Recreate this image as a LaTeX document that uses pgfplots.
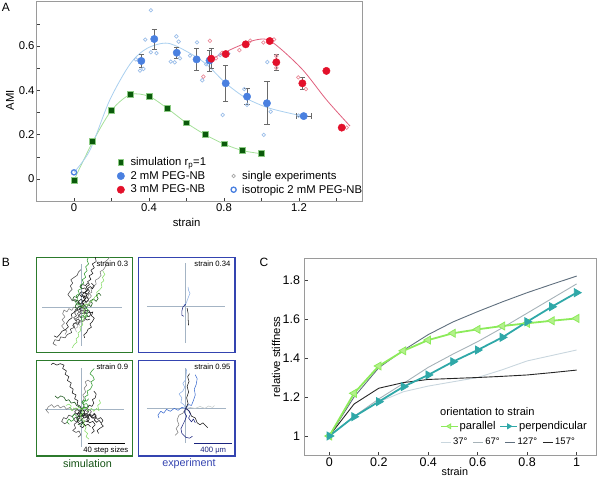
\documentclass[border=0pt]{standalone}
\usepackage{fontspec}
\setmainfont{Liberation Sans}
\usepackage{pgfplots}
\pgfplotsset{compat=1.18}

\newcommand{\fs}[1]{\fontsize{#1}{#1}\selectfont}

\definecolor{simfill}{HTML}{0B5A0B}
\definecolor{simedge}{HTML}{8CCB84}
\definecolor{simfit}{HTML}{A6E09A}
\definecolor{bluept}{HTML}{4A80E0}
\definecolor{bluefit}{HTML}{A9CFEF}
\definecolor{bluesingle}{HTML}{9DBFE9}
\definecolor{redpt}{HTML}{E3102A}
\definecolor{redfit}{HTML}{E0607E}
\definecolor{redsingle}{HTML}{EA8E9C}
\definecolor{errgray}{HTML}{6A6A6A}
\definecolor{framegray}{HTML}{9A9A9A}
\definecolor{parallelc}{HTML}{8CEB5A}
\definecolor{parfill}{HTML}{B4F08C}
\definecolor{perpc}{HTML}{2FA8A8}
\definecolor{a37}{HTML}{C9D6DE}
\definecolor{a67}{HTML}{A6B2B8}
\definecolor{a127}{HTML}{5F6F7E}
\definecolor{a157}{HTML}{262626}
\definecolor{simframe}{HTML}{2C7A2C}
\definecolor{expframe}{HTML}{3444B0}
\definecolor{cross}{HTML}{A4B4C4}
\definecolor{tblack}{HTML}{1A1A1A}
\definecolor{tdgray}{HTML}{454545}
\definecolor{tgray}{HTML}{7C7C7C}
\definecolor{tlgray}{HTML}{ABABAB}
\definecolor{tgreen}{HTML}{2E9A2E}
\definecolor{tdgreen}{HTML}{145214}
\definecolor{tlgreen}{HTML}{86DC66}
\definecolor{edblue}{HTML}{1A237E}
\definecolor{eblue}{HTML}{3C6CD0}
\definecolor{elblue}{HTML}{8FB0E4}
\definecolor{elgray}{HTML}{C4CACA}

\pgfplotsset{
  panel/.style={scale only axis, anchor=south west,
    axis line style={framegray, line width=1pt},
    tick pos=left, tick align=inside,
    major tick length=3pt, minor tick length=3pt,
    every tick/.style={black!75, line width=0.6pt},
    /pgf/number format/assume math mode=true,
    legend cell align=left},
  walk/.style={scale only axis, anchor=south west,
    xtick=\empty, ytick=\empty},
  trk/.style={#1, line width=0.55pt, line join=round},
  ebars/.style={error bars/error bar style={errgray, line width=0.6pt},
    error bars/error mark options={rotate=90, errgray, mark size=2.6pt, line width=0.6pt}},
}

\begin{document}
\begin{tikzpicture}
\useasboundingbox (0,0) rectangle (600pt,479pt);

% ---------------- panel A ----------------
\begin{axis}[panel, at={(36.5pt,277.85pt)},
  width=326.25pt, height=199.35pt,
  xmin=-0.2, xmax=1.54, ymin=-0.1, ymax=0.8,
  xtick={0,0.4,0.8,1.2}, minor xtick={0.2,0.6,1.0,1.4},
  ytick={0,0.2,0.4,0.6}, minor ytick={0.1,0.3,0.5,0.7},
  tick label style={font=\fs{11.3}},
  xticklabel style={yshift=1pt}, yticklabel style={xshift=1.5pt},
  xlabel={strain}, ylabel={AMI},
  label style={font=\fs{11.3}},
  xlabel style={at={(axis description cs:0.46,-0.105)}, anchor=center},
  ylabel style={at={(axis description cs:-0.081,0.507)}, anchor=center},
  legend columns=2,
  legend style={at={(axis cs:0.229,0.107)}, anchor=north west, draw=none,
    fill=none, font=\fs{11.3}, inner sep=0pt, row sep=0pt,
    /tikz/every odd column/.append style={column sep=4pt},
    /tikz/every even column/.append style={column sep=17pt}},
]
% fits
\addplot[simfit, line width=0.8pt, smooth, forget plot] coordinates {
  (0,-0.005) (0.1,0.168) (0.2,0.31) (0.3,0.381) (0.4,0.373) (0.5,0.317)
  (0.6,0.253) (0.7,0.2) (0.8,0.158) (0.9,0.128) (1.0,0.114)};
\addplot[bluefit, line width=0.8pt, smooth, forget plot] coordinates {
  (0,0.03) (0.085,0.13) (0.19,0.355) (0.3,0.52) (0.39,0.59) (0.5,0.613)
  (0.62,0.567) (0.71,0.515) (0.81,0.432) (0.92,0.364) (1.045,0.319) (1.22,0.284)};
\addplot[redfit, line width=0.8pt, smooth, forget plot] coordinates {
  (0.73,0.54) (0.85,0.59) (0.956,0.625) (1.028,0.63) (1.099,0.59)
  (1.223,0.49) (1.347,0.357) (1.472,0.239)};
% single experiments
\addplot[only marks, mark=o, mark size=1.8pt, bluesingle,
  mark options={line width=0.7pt}, forget plot] coordinates {
  (0.41,0.762) (0.38,0.629) (0.33,0.54) (0.352,0.489) (0.37,0.497)
  (0.41,0.572) (0.44,0.568) (0.546,0.644) (0.558,0.62) (0.516,0.53)
  (0.537,0.527) (0.565,0.545) (0.656,0.617) (0.619,0.557) (0.684,0.446)
  (0.705,0.518) (0.793,0.289) (0.779,0.56) (0.908,0.406) (0.923,0.335)
  (1.012,0.199) (1.031,0.528) (1.049,0.304) (1.198,0.286) (0.823,0.567)};
\addplot[only marks, mark=o, mark size=1.8pt, redsingle,
  mark options={line width=0.7pt}, forget plot] coordinates {
  (0.725,0.624) (0.69,0.462) (0.757,0.545) (0.882,0.582) (0.94,0.624)
  (1.01,0.616) (1.067,0.63) (1.079,0.555) (1.079,0.502) (1.196,0.459)
  (1.237,0.406) (1.454,0.232) (0.79,0.57)};
% simulation
\addplot[only marks, mark=square*, mark size=2.9pt,
  mark options={fill=simfill, draw=simedge, line width=0.8pt}, forget plot]
  coordinates {
  (0,-0.005) (0.1,0.168) (0.2,0.31) (0.3,0.381) (0.4,0.373) (0.5,0.317)
  (0.6,0.253) (0.7,0.2) (0.8,0.158) (0.9,0.128) (1.0,0.114)};
% 2 mM
\addplot[only marks, mark=*, mark size=3.7pt, bluept, forget plot, ebars,
  error bars/.cd, y dir=both, y explicit, x dir=both, x explicit]
  coordinates {
  (0.359,0.533) +- (0,0.03)
  (0.428,0.632) +- (0,0.045)
  (0.548,0.570) +- (0,0.026)
  (0.654,0.540) +- (0,0.05)
  (0.723,0.535) +- (0,0.047)
  (0.809,0.432) +- (0,0.08)
  (0.923,0.372) +- (0,0.037)
  (1.029,0.342) +- (0,0.097)
  (1.225,0.284) +- (0.04,0)};
% 3 mM
\addplot[only marks, mark=*, mark size=3.7pt, redpt, forget plot, ebars,
  error bars/.cd, y dir=both, y explicit]
  coordinates {
  (0.732,0.543) +- (0,0.045)
  (0.809,0.564) +- (0,0)
  (0.916,0.608) +- (0,0)
  (1.044,0.623) +- (0,0)
  (1.079,0.527) +- (0,0.035)
  (1.218,0.432) +- (0,0.028)
  (1.346,0.488) +- (0,0)
  (1.428,0.232) +- (0,0)};
% isotropic
\addplot[only marks, mark=o, mark size=2.6pt, bluept,
  mark options={line width=1.3pt}, forget plot] coordinates {(0,0.03)};

\addlegendimage{only marks, mark=square*, mark size=2.9pt,
  mark options={fill=simfill, draw=simedge, line width=0.8pt}}
\addlegendentry{simulation r\textsubscript{p}=1}
\addlegendimage{empty legend}\addlegendentry{}
\addlegendimage{only marks, mark=*, mark size=3.7pt, bluept}
\addlegendentry{2 mM PEG-NB}
\addlegendimage{only marks, mark=o, mark size=1.8pt, gray!70,
  mark options={line width=0.7pt}}
\addlegendentry{single experiments}
\addlegendimage{only marks, mark=*, mark size=3.7pt, redpt}
\addlegendentry{3 mM PEG-NB}
\addlegendimage{only marks, mark=o, mark size=2.6pt, bluept,
  mark options={line width=1.3pt}}
\addlegendentry{isotropic 2 mM PEG-NB}
\end{axis}

% ---------------- panel C ----------------
\begin{axis}[panel, at={(304.6pt,23.5pt)},
  width=291.8pt, height=196.95pt,
  xmin=-0.1, xmax=1.08, ymin=0.9, ymax=1.91,
  xtick={0,0.2,0.4,0.6,0.8,1}, ytick={1,1.2,1.4,1.6,1.8},
  tick label style={font=\fs{12.5}},
  xticklabel style={yshift=1pt}, yticklabel style={xshift=-1pt},
  xlabel={strain}, ylabel={relative stiffness},
  xlabel style={font=\fs{10.8}, at={(axis description cs:0.515,-0.084)}, anchor=center},
  ylabel style={font=\fs{11.3}, at={(axis description cs:-0.098,0.5)}, anchor=center},
  legend columns=2,
  legend image post style={mark size=2.8pt, line width=1.3pt},
  legend style={at={(axis cs:0.4476,1.0497)}, anchor=west, draw=none,
    fill=none, font=\fs{11.2}, inner sep=0pt,
    /tikz/every odd column/.append style={column sep=-1pt},
    /tikz/every even column/.append style={column sep=2pt}},
]
\addplot[a37, line width=0.9pt, forget plot] coordinates {
  (0,1) (0.1,1.1) (0.2,1.175) (0.3,1.227) (0.4,1.256) (0.5,1.278)
  (0.6,1.30) (0.7,1.34) (0.8,1.385) (0.9,1.413) (1.0,1.441)};
\addplot[a67, line width=0.9pt, forget plot] coordinates {
  (0,1) (0.1,1.1) (0.2,1.19) (0.3,1.27) (0.4,1.352) (0.5,1.42)
  (0.6,1.484) (0.7,1.555) (0.8,1.63) (0.9,1.705) (1.0,1.78)};
\addplot[a127, line width=0.9pt, forget plot] coordinates {
  (0,1) (0.1,1.2) (0.2,1.35) (0.3,1.44) (0.4,1.52) (0.5,1.585)
  (0.6,1.638) (0.7,1.688) (0.8,1.735) (0.9,1.778) (1.0,1.82)};
\addplot[a157, line width=0.9pt, forget plot] coordinates {
  (0,1) (0.1,1.164) (0.2,1.245) (0.3,1.274) (0.4,1.29) (0.5,1.295)
  (0.6,1.30) (0.7,1.306) (0.8,1.313) (0.9,1.325) (1.0,1.338)};
\addplot[parallelc, line width=1.8pt, mark=triangle*, mark size=4.6pt,
  mark options={rotate=90, fill=parfill, draw=parallelc, line width=0.8pt}]
  coordinates {
  (0,1) (0.1,1.219) (0.2,1.359) (0.3,1.437) (0.4,1.492) (0.5,1.527)
  (0.6,1.547) (0.7,1.564) (0.8,1.578) (0.9,1.591) (1.0,1.603)};
\addlegendentry{parallel}
\addplot[perpc, line width=1.8pt, mark=triangle*, mark size=4.6pt,
  mark options={rotate=-90, fill=perpc, draw=perpc, line width=0.8pt}]
  coordinates {
  (0,1) (0.1,1.099) (0.2,1.176) (0.3,1.253) (0.4,1.313) (0.5,1.381)
  (0.6,1.441) (0.7,1.506) (0.8,1.586) (0.9,1.663) (1.0,1.735)};
\addlegendentry{perpendicular}
\node[anchor=west, font=\fs{11.1}, inner sep=0pt] at (axis cs:0.4476,1.127)
  {orientation to strain};
\end{axis}

% angle legend for panel C
\begin{axis}[scale only axis, anchor=south west, at={(304.6pt,23.5pt)},
  width=291.8pt, height=196.95pt, hide axis,
  xmin=-0.1, xmax=1.08, ymin=0.9, ymax=1.91,
  legend columns=4,
  legend image code/.code={\draw[#1] (0pt,0pt) -- (10pt,0pt);},
  legend style={at={(axis cs:0.4476,0.968)}, anchor=west, draw=none,
    fill=none, font=\fs{9.5}, inner sep=0pt,
    /tikz/every odd column/.append style={column sep=0pt},
    /tikz/every even column/.append style={column sep=3pt}},
]
\addlegendimage{a37, line width=0.9pt}\addlegendentry{37°}
\addlegendimage{a67, line width=0.9pt}\addlegendentry{67°}
\addlegendimage{a127, line width=0.9pt}\addlegendentry{127°}
\addlegendimage{a157, line width=0.9pt}\addlegendentry{157°}
\end{axis}

% ---------------- panel B ----------------
% top left: simulation, strain 0.3
\begin{axis}[walk, at={(36.7pt,126.3pt)}, width=96pt, height=95pt,
  xmin=-0.94, xmax=1.06, ymin=-0.95, ymax=1.03,
  axis line style={simframe, line width=1.1pt}]
\addplot[cross, line width=0.8pt] coordinates {(-0.82,0) (0.83,0)};
\addplot[cross, line width=0.8pt] coordinates {(0,-0.8) (0,0.9)};
\addplot[trk=tdgray] coordinates {(0,0) (-0.05,-0.03) (-0.02,-0.09) (-0.09,-0.13) (-0.06,-0.2) (-0.13,-0.24) (-0.1,-0.31) (-0.18,-0.35) (-0.15,-0.42) (-0.24,-0.46) (-0.21,-0.53) (-0.3,-0.57) (-0.35,-0.64) (-0.44,-0.62) (-0.47,-0.7) (-0.56,-0.68) (-0.6,-0.76) (-0.53,-0.8)};
\addplot[trk=tgray] coordinates {(0,0) (-0.06,0.03) (-0.1,-0.03) (-0.17,0.0) (-0.21,-0.07) (-0.27,-0.03) (-0.31,-0.1) (-0.37,-0.06) (-0.4,-0.14) (-0.35,-0.2) (-0.41,-0.26) (-0.36,-0.33) (-0.42,-0.39) (-0.37,-0.46) (-0.31,-0.5) (-0.35,-0.57)};
\addplot[trk=tgray] coordinates {(0,0) (0.02,0.07) (0.08,0.1) (0.06,0.17) (0.12,0.21) (0.15,0.28) (0.21,0.31) (0.19,0.39) (0.25,0.44) (0.3,0.48) (0.28,0.56) (0.35,0.6) (0.4,0.66) (0.38,0.74) (0.45,0.78) (0.5,0.86) (0.48,0.94) (0.55,1.0) (0.6,1.08)};
\addplot[trk=tgray] coordinates {(0,0) (0.06,0.02) (0.1,0.07) (0.15,0.04) (0.18,0.1) (0.13,0.14) (0.08,0.11) (0.05,0.16) (0.1,0.2) (0.16,0.18) (0.2,0.23) (0.16,0.28) (0.1,0.26)};
\addplot[trk=tlgray] coordinates {(0,0) (0.03,-0.07) (-0.03,-0.11) (-0.01,-0.18) (-0.07,-0.22) (-0.05,-0.3) (-0.11,-0.34) (-0.08,-0.41) (-0.14,-0.45) (-0.11,-0.52)};
\addplot[trk=tblack] coordinates {(0,0) (0.04,0.06) (0.0,0.1) (0.06,0.15) (0.03,0.21) (0.1,0.24) (0.07,0.31) (0.13,0.35) (0.09,0.42) (0.16,0.47) (0.12,0.53) (0.19,0.58) (0.15,0.65) (0.23,0.7) (0.19,0.77) (0.26,0.82) (0.22,0.9) (0.3,0.95) (0.27,1.08)};
\addplot[trk=tblack] coordinates {(0,0) (0.05,-0.02) (0.08,-0.08) (0.14,-0.06) (0.18,-0.12) (0.23,-0.1) (0.2,-0.18) (0.26,-0.23) (0.22,-0.3) (0.17,-0.35) (0.2,-0.42) (0.13,-0.46) (0.1,-0.53) (0.04,-0.58) (0.06,-0.64)};
\addplot[trk=tblack] coordinates {(0,0) (-0.06,-0.06) (-0.12,-0.04) (-0.16,-0.11) (-0.22,-0.15) (-0.2,-0.22) (-0.27,-0.27) (-0.32,-0.34) (-0.28,-0.41) (-0.34,-0.47) (-0.41,-0.5) (-0.46,-0.57) (-0.52,-0.63) (-0.58,-0.6)};
\addplot[trk=tblack] coordinates {(0,0) (0.05,0.04) (0.02,0.09) (-0.04,0.07) (-0.07,0.12) (-0.02,0.16) (0.04,0.13) (0.08,0.18) (0.05,0.24) (-0.01,0.22) (-0.05,0.27) (-0.01,0.32) (0.05,0.3) (0.1,0.35) (0.06,0.4) (0.0,0.38) (-0.04,0.43) (0.02,0.47) (0.08,0.45) (0.12,0.5)};
\addplot[trk=tblack] coordinates {(0.02,-0.02) (0.07,-0.06) (0.04,-0.11) (0.1,-0.14) (0.15,-0.1) (0.19,-0.15) (0.15,-0.2) (0.09,-0.18) (0.06,-0.23) (0.11,-0.27) (0.17,-0.25)};
\addplot[trk=tblack] coordinates {(0,0.1) (0.05,0.14) (0.1,0.1) (0.14,0.16) (0.1,0.22) (0.04,0.2) (0.0,0.26) (0.06,0.3) (0.12,0.27) (0.16,0.33) (0.12,0.39) (0.18,0.43) (0.22,0.38) (0.26,0.44) (0.2,0.5)};
\addplot[trk=tdgray] coordinates {(0,0) (-0.03,0.07) (-0.09,0.1) (-0.14,0.16) (-0.2,0.13) (-0.24,0.2) (-0.29,0.26) (-0.25,0.32) (-0.2,0.37) (-0.24,0.44) (-0.19,0.5) (-0.23,0.57) (-0.16,0.62) (-0.1,0.66) (-0.07,0.73) (-0.02,0.78)};
\addplot[trk=tdgray] coordinates {(0,0) (-0.04,-0.05) (0.01,-0.08) (0.06,-0.05) (0.09,-0.1) (0.04,-0.14) (-0.02,-0.12) (-0.06,-0.17) (-0.02,-0.22) (0.04,-0.2) (0.07,-0.26) (0.02,-0.3) (-0.04,-0.28) (-0.08,-0.33) (-0.05,-0.38)};
\addplot[trk=tdgray] coordinates {(-0.05,-0.1) (-0.1,-0.06) (-0.15,-0.12) (-0.11,-0.18) (-0.17,-0.22) (-0.13,-0.28) (-0.07,-0.25) (-0.03,-0.31) (-0.09,-0.36) (-0.14,-0.33) (-0.19,-0.38) (-0.15,-0.44)};
\addplot[trk=tgreen] coordinates {(0,0) (-0.04,0.06) (-0.1,0.04) (-0.13,0.11) (-0.09,0.17) (-0.12,0.24) (-0.05,0.28) (-0.08,0.35) (0.0,0.39) (-0.03,0.46) (0.04,0.5) (0.01,0.57) (0.08,0.62) (0.05,0.7) (0.11,0.76) (0.08,0.84) (0.14,0.9) (0.11,0.98) (0.16,1.08)};
\addplot[trk=tgreen] coordinates {(0.05,-0.05) (0.1,-0.02) (0.13,-0.08) (0.09,-0.13) (0.13,-0.19) (0.07,-0.22) (0.03,-0.17) (-0.02,-0.2) (0.0,-0.27)};
\addplot[trk=tdgreen] coordinates {(0,0) (0.05,0.04) (0.09,-0.01) (0.14,0.05) (0.19,0.01) (0.22,0.08) (0.18,0.13) (0.24,0.17) (0.3,0.12) (0.34,0.18) (0.3,0.25) (0.36,0.29) (0.4,0.24)};
\addplot[trk=tdgreen] coordinates {(0,0) (-0.05,0.02) (-0.09,-0.03) (-0.14,0.0) (-0.12,0.06) (-0.06,0.08) (-0.08,0.14) (-0.14,0.12) (-0.19,0.16) (-0.16,0.22) (-0.1,0.2) (-0.06,0.25)};
\addplot[trk=tlgreen] coordinates {(0.02,0.0) (0.06,-0.06) (0.02,-0.12) (0.08,-0.18) (0.04,-0.25) (0.0,-0.3) (0.02,-0.37) (-0.04,-0.42) (-0.02,-0.49) (-0.08,-0.54) (-0.06,-0.61) (-0.12,-0.66) (-0.1,-0.73) (-0.16,-0.78) (-0.2,-0.85)};
\addplot[trk=tlgreen] coordinates {(0,0) (0.07,0.07) (0.12,0.04) (0.17,0.11) (0.23,0.14) (0.27,0.21) (0.33,0.24) (0.31,0.31) (0.37,0.36) (0.42,0.42) (0.4,0.5) (0.46,0.55) (0.43,0.62) (0.48,0.68) (0.44,0.75)};
\node[anchor=north east, font=\fs{7.7}, inner sep=0pt] at (rel axis cs:0.955,0.965) {strain 0.3};
\end{axis}

% top right: experiment, strain 0.34
\begin{axis}[walk, at={(138.3pt,126.3pt)}, width=96.7pt, height=95pt,
  xmin=-0.99, xmax=1.03, ymin=-0.97, ymax=1.01,
  axis line style={expframe, line width=1.1pt}]
\addplot[cross, line width=0.8pt] coordinates {(-0.81,0) (0.82,0)};
\addplot[cross, line width=0.8pt] coordinates {(0,-0.77) (0,0.9)};
\addplot[trk=elblue] coordinates {(-0.04,0.02) (0.01,0.06) (0.05,0.17) (0.09,0.27) (0.06,0.33) (0.05,0.40)};
\addplot[trk=edblue] coordinates {(0.0,0.04) (-0.06,-0.02) (-0.08,-0.1) (-0.08,-0.19) (-0.04,-0.21)};
\addplot[trk=tblack] coordinates {(0.03,-0.04) (0.05,-0.15) (0.05,-0.25) (0.06,-0.4)};
\node[anchor=north east, font=\fs{7.7}, inner sep=0pt] at (rel axis cs:0.955,0.965) {strain 0.34};
\end{axis}

% bottom left: simulation, strain 0.9
\begin{axis}[walk, at={(36.7pt,23pt)}, width=96pt, height=95.7pt,
  xmin=-0.94, xmax=1.06, ymin=-0.97, ymax=1.02,
  axis line style={simframe, line width=1.1pt}]
\addplot[cross, line width=0.8pt] coordinates {(-0.76,0) (0.87,0)};
\addplot[cross, line width=0.8pt] coordinates {(0,-0.78) (0,0.85)};
\addplot[trk=tgray] coordinates {(0,0) (-0.07,-0.03) (-0.12,0.03) (-0.19,-0.02) (-0.25,0.04) (-0.32,0.0) (-0.37,0.07) (-0.45,0.03) (-0.5,0.09) (-0.58,0.04) (-0.63,0.1) (-0.7,0.05) (-0.74,-0.02) (-0.69,-0.08)};
\addplot[trk=tgray] coordinates {(0,0) (0.05,0.08) (0.0,0.15) (0.05,0.22) (0.02,0.3) (0.08,0.36) (0.05,0.44) (0.1,0.5) (0.07,0.57) (0.13,0.61) (0.18,0.57)};
\addplot[trk=tdgray] coordinates {(0,0) (-0.07,-0.06) (-0.04,-0.13) (-0.11,-0.18) (-0.09,-0.26) (-0.16,-0.31) (-0.13,-0.39) (-0.19,-0.44) (-0.12,-0.48) (-0.06,-0.45) (-0.02,-0.53) (-0.08,-0.58)};
\addplot[trk=tdgray] coordinates {(0,0) (-0.06,-0.1) (-0.14,-0.08) (-0.2,-0.15) (-0.27,-0.12) (-0.32,-0.2) (-0.38,-0.17) (-0.42,-0.25) (-0.36,-0.3) (-0.3,-0.27)};
\addplot[trk=tdgray] coordinates {(0,0) (-0.05,-0.04) (-0.1,0.0) (-0.15,-0.05) (-0.11,-0.1) (-0.05,-0.08) (-0.02,-0.14) (-0.07,-0.19) (-0.13,-0.16) (-0.17,-0.21) (-0.12,-0.26) (-0.06,-0.24)};
\addplot[trk=tdgray] coordinates {(0.1,-0.05) (0.15,0.0) (0.2,-0.05) (0.16,-0.1) (0.22,-0.13) (0.26,-0.08) (0.3,-0.13) (0.26,-0.19) (0.2,-0.17)};
\addplot[trk=tblack] coordinates {(0,0) (-0.04,0.07) (-0.1,0.1) (-0.08,0.18) (-0.15,0.22) (-0.12,0.3) (-0.2,0.34) (-0.18,0.42) (-0.25,0.47) (-0.22,0.55) (-0.3,0.6) (-0.27,0.68) (-0.35,0.73) (-0.32,0.8) (-0.4,0.85) (-0.37,0.92) (-0.45,0.95) (-0.52,0.92) (-0.6,0.96) (-0.64,0.93)};
\addplot[trk=tblack] coordinates {(0,0) (0.06,-0.05) (0.04,-0.12) (0.11,-0.16) (0.16,-0.12) (0.22,-0.18) (0.28,-0.15) (0.33,-0.21) (0.39,-0.17) (0.44,-0.23) (0.4,-0.3) (0.45,-0.35) (0.38,-0.39) (0.32,-0.44) (0.35,-0.5)};
\addplot[trk=tblack] coordinates {(0,0) (-0.03,-0.08) (0.03,-0.13) (0.1,-0.09) (0.15,-0.16) (0.1,-0.22) (0.16,-0.28) (0.23,-0.25) (0.28,-0.32) (0.22,-0.38) (0.26,-0.45) (0.2,-0.5)};
\addplot[trk=tblack] coordinates {(0,0) (0.06,0.05) (0.12,0.02) (0.15,0.09) (0.21,0.06) (0.25,0.13) (0.22,0.2) (0.28,0.24) (0.3,0.32) (0.25,0.38)};
\addplot[trk=tblack] coordinates {(0,0) (0.05,-0.04) (0.1,0.0) (0.14,-0.05) (0.1,-0.1) (0.04,-0.08) (0.0,-0.13) (0.05,-0.18) (0.11,-0.16) (0.16,-0.2) (0.12,-0.26) (0.06,-0.24) (0.02,-0.29) (0.07,-0.34) (0.13,-0.31) (0.18,-0.36)};
\addplot[trk=tblack] coordinates {(0.05,-0.1) (0.1,-0.14) (0.16,-0.1) (0.21,-0.15) (0.26,-0.1) (0.3,-0.16) (0.26,-0.22) (0.31,-0.27) (0.36,-0.23) (0.4,-0.28)};
\addplot[trk=tblack] coordinates {(-0.05,-0.05) (-0.1,-0.1) (-0.05,-0.15) (0.0,-0.11) (0.05,-0.16) (0.0,-0.21) (-0.06,-0.19) (-0.1,-0.25) (-0.05,-0.3) (0.01,-0.27) (0.06,-0.32) (0.02,-0.38) (-0.04,-0.35)};
\addplot[trk=tgreen] coordinates {(0,0) (0.05,0.06) (0.02,0.13) (0.08,0.18) (0.06,0.26) (0.13,0.3) (0.11,0.38) (0.18,0.42) (0.22,0.5) (0.19,0.57) (0.26,0.62) (0.23,0.69) (0.17,0.74) (0.21,0.8) (0.26,0.85)};
\addplot[trk=tgreen] coordinates {(0,0) (0.04,0.05) (0.09,0.02) (0.13,0.07) (0.1,0.12) (0.04,0.1) (0.0,0.15) (0.05,0.19) (0.1,0.17) (0.14,0.22)};
\addplot[trk=tgreen] coordinates {(-0.1,-0.15) (-0.15,-0.1) (-0.2,-0.15) (-0.16,-0.21) (-0.22,-0.25) (-0.27,-0.2) (-0.31,-0.26) (-0.26,-0.31)};
\addplot[trk=tdgreen] coordinates {(0,0) (-0.05,0.05) (-0.11,0.08) (-0.15,0.15) (-0.22,0.13) (-0.27,0.2) (-0.33,0.18) (-0.37,0.25) (-0.44,0.28) (-0.5,0.23) (-0.56,0.28)};
\addplot[trk=tdgreen] coordinates {(0,0) (-0.03,-0.07) (0.02,-0.1) (-0.02,-0.16) (-0.08,-0.14) (-0.1,-0.2) (-0.05,-0.25) (0.0,-0.22) (0.03,-0.28) (-0.02,-0.33) (-0.08,-0.31)};
\addplot[trk=tlgreen] coordinates {(0,0) (0.03,-0.07) (-0.03,-0.12) (0.0,-0.2) (0.06,-0.24) (0.03,-0.32) (0.09,-0.37) (0.06,-0.45) (0.12,-0.5) (0.09,-0.57) (0.15,-0.62)};
\addplot[trk=tlgreen] coordinates {(0,0) (0.08,0.03) (0.13,-0.03) (0.2,0.02) (0.25,-0.04) (0.31,0.02) (0.36,-0.03) (0.33,0.08) (0.39,0.13) (0.36,0.2)};
\addplot[trk=tlgreen] coordinates {(0,0) (-0.06,0.04) (-0.11,0.0) (-0.17,0.03) (-0.2,-0.03) (-0.25,0.01) (-0.22,0.07) (-0.27,0.11) (-0.33,0.08)};
\node[anchor=north east, font=\fs{7.7}, inner sep=0pt] at (rel axis cs:0.955,0.965) {strain 0.9};
\draw[black, line width=1.4pt] (axis cs:0.12,-0.71) -- (axis cs:0.9,-0.71);
\node[font=\fs{7.7}, inner sep=0pt] at (axis cs:0.5,-0.85) {40 step sizes};
\end{axis}

% bottom right: experiment, strain 0.95
\begin{axis}[walk, at={(138.3pt,23pt)}, width=96.7pt, height=95.7pt,
  xmin=-0.99, xmax=1.03, ymin=-0.99, ymax=1.0,
  axis line style={expframe, line width=1.1pt}]
\addplot[cross, line width=0.8pt] coordinates {(-0.81,0) (0.85,0)};
\addplot[cross, line width=0.8pt] coordinates {(0,-0.72) (0,0.85)};
\addplot[trk=elgray] coordinates {(0,0) (0.1,0.02) (0.2,0.0) (0.3,0.04) (0.4,0.0) (0.48,0.05) (0.56,0.02) (0.6,0.06)};
\addplot[trk=tgray] coordinates {(0,0) (-0.06,-0.1) (-0.14,-0.14) (-0.18,-0.24) (-0.14,-0.34) (-0.2,-0.42) (-0.16,-0.5) (-0.22,-0.56)};
\addplot[trk=elblue] coordinates {(0,0) (-0.04,0.08) (-0.1,0.12) (-0.08,0.22) (-0.14,0.3) (-0.06,0.36) (-0.02,0.44) (-0.06,0.52) (0.0,0.6) (0.02,0.82)};
\addplot[trk=eblue] coordinates {(0,0) (-0.08,0.02) (-0.16,-0.04) (-0.24,0.0) (-0.32,-0.06) (-0.4,-0.02) (-0.46,-0.1) (-0.52,-0.06) (-0.58,-0.14) (-0.56,-0.2)};
\addplot[trk=eblue] coordinates {(0,0) (0.06,0.08) (0.12,0.06) (0.16,0.16) (0.2,0.28) (0.18,0.4) (0.22,0.5) (0.24,0.62) (0.2,0.7)};
\addplot[trk=tblack] coordinates {(0,0) (0.05,0.1) (0.02,0.22) (0.06,0.34) (0.03,0.46) (0.07,0.56) (0.04,0.66) (0.08,0.72)};
\addplot[trk=tblack] coordinates {(0,0) (0.08,-0.06) (0.12,-0.16) (0.2,-0.2) (0.24,-0.3) (0.3,-0.34) (0.36,-0.3) (0.42,-0.36) (0.46,-0.4)};
\addplot[trk=edblue] coordinates {(0,0) (-0.03,-0.08) (0.02,-0.16) (-0.02,-0.26) (-0.06,-0.34) (-0.1,-0.42) (-0.08,-0.52) (0.0,-0.6) (0.08,-0.62) (0.14,-0.58)};
\addplot[trk=edblue] coordinates {(0,0) (0.06,-0.04) (0.1,-0.12) (0.06,-0.2) (0.12,-0.28) (0.16,-0.22) (0.2,-0.3)};
\node[anchor=north east, font=\fs{7.7}, inner sep=0pt] at (rel axis cs:0.955,0.965) {strain 0.95};
\draw[edblue, line width=1.4pt] (axis cs:0.18,-0.73) -- (axis cs:0.96,-0.73);
\node[font=\fs{7.7}, text=edblue, inner sep=0pt] at (axis cs:0.575,-0.87) {400 μm};
\end{axis}

\node[font=\fs{10.8}, text=tdgreen] at (87.5pt,15pt) {simulation};
\node[font=\fs{10.8}, text=expframe] at (189pt,15pt) {experiment};

% panel letters
\node[font=\fs{12}, inner sep=0pt] at (6pt,471.5pt) {A};
\node[font=\fs{12}, inner sep=0pt] at (6pt,216.5pt) {B};
\node[font=\fs{12}, inner sep=0pt] at (264pt,216.5pt) {C};
\end{tikzpicture}
\end{document}
